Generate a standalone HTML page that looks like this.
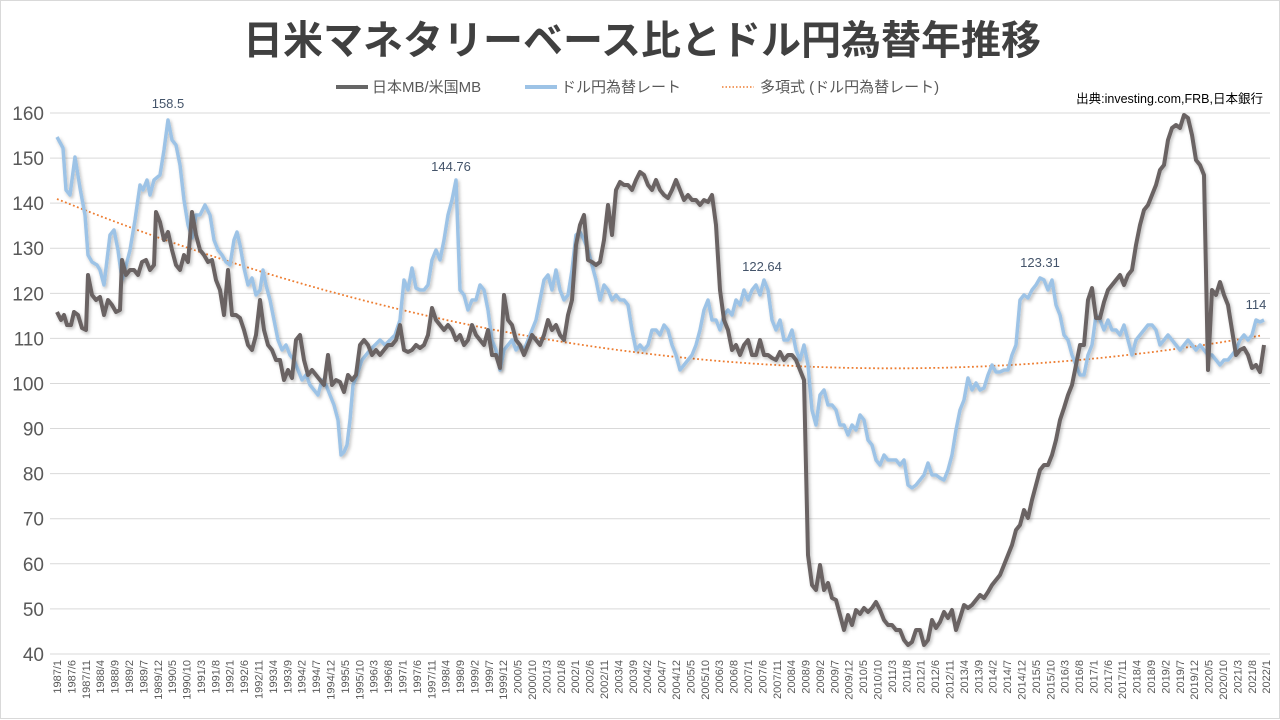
<!DOCTYPE html>
<html><head><meta charset="utf-8"><style>
html,body{margin:0;padding:0;background:#fff;}
svg{display:block;font-family:"Liberation Sans","Noto Sans CJK JP",sans-serif;}
</style></head><body>
<svg id="s" width="1280" height="720" viewBox="0 0 1280 720" xmlns="http://www.w3.org/2000/svg">
<defs><filter id="sh" x="-5%" y="-5%" width="110%" height="110%"><feDropShadow dx="1.5" dy="2" stdDeviation="1.5" flood-color="#000" flood-opacity="0.25"/></filter></defs>
<rect x="0.5" y="0.5" width="1279" height="718" fill="#fff" stroke="#d9d9d9"/>
<text x="642" y="54" text-anchor="middle" font-size="40" font-weight="bold" fill="#404040">日米マネタリーベース比とドル円為替年推移</text>
<g font-size="15" fill="#595959">
<line x1="336" y1="87" x2="368" y2="87" stroke="#666" stroke-width="4"/>
<text x="372" y="92">日本MB/米国MB</text>
<line x1="525" y1="87" x2="557" y2="87" stroke="#9dc3e6" stroke-width="4"/>
<text x="561" y="92">ドル円為替レート</text>
<line x1="722" y1="87" x2="754" y2="87" stroke="#ed7d31" stroke-width="1.5" stroke-dasharray="1.5 2"/>
<text x="760" y="92">多項式 (ドル円為替レート)</text>
</g>
<text x="1263" y="103" text-anchor="end" font-size="12.5" fill="#000">出典:investing.com,FRB,日本銀行</text>
<g id="grid"></g>
<g id="xl" font-size="11" fill="#595959"></g>
<polyline id="tr" fill="none" stroke="#ed7d31" stroke-width="1.8" stroke-dasharray="1.8 2.5"/>
<polyline id="bl" fill="none" stroke="#9dc3e6" stroke-width="3.5" stroke-linejoin="round" filter="url(#sh)"/>
<polyline id="gr" fill="none" stroke="#6b6464" stroke-width="4" stroke-linejoin="round" filter="url(#sh)"/>
<g font-size="13" fill="#44546a" text-anchor="middle">
<text x="168" y="108">158.5</text>
<text x="451" y="171">144.76</text>
<text x="762" y="271">122.64</text>
<text x="1040" y="267">123.31</text>
<text x="1256" y="309">114</text>
</g>
</svg>
<script>
var NS="http://www.w3.org/2000/svg";
function el(p,t,a,txt){var e=document.createElementNS(NS,t);for(var k in a)e.setAttribute(k,a[k]);if(txt!=null)e.textContent=txt;p.appendChild(e);return e;}
var g=document.getElementById('grid');
for(var v=40;v<=160;v+=10){var y=113+(160-v)*4.508;
el(g,'line',{x1:50,x2:1270,y1:y,y2:y,stroke:'#d9d9d9','stroke-width':1});
el(g,'text',{x:44,y:y+7,'text-anchor':'end','font-size':19,fill:'#595959'},v);}
var xl=document.getElementById('xl');
for(var m=0;m<=420;m+=5){var yr=1987+Math.floor(m/12),mo=m%12+1;var x=57+m*2.879+4;
el(xl,'text',{transform:'translate('+x+',660) rotate(-90)','text-anchor':'end'},yr+'/'+mo);}
var blue="57,137 63,148 66,190 70,195 75,157 80,188 85,215 88,255 92,262 97,265 100,270 104,285 110,235 114,230 118,250 122,280 125,270 130,250 135,220 140,185 143,190 147,180 150,195 154,180 160,175 164,150 168,120 172,140 176,145 180,165 184,200 188,225 192,238 196,215 200,215 205,205 210,215 214,240 218,250 222,255 226,262 230,265 234,240 237,232 240,245 244,268 248,285 252,278 256,295 260,290 263,270 266,285 270,300 274,320 278,340 282,350 286,345 290,355 294,360 298,370 302,380 306,375 310,385 314,390 318,395 322,380 326,385 330,395 334,405 338,420 341,455 344,452 347,445 350,420 353,385 357,375 362,360 366,355 370,350 375,345 380,340 385,345 390,340 395,335 400,320 404,280 408,290 412,268 416,288 420,290 424,290 428,285 432,260 436,250 440,260 444,240 448,215 452,200 456,180 460,290 464,295 468,310 472,300 476,300 480,285 484,290 488,310 492,340 496,350 500,370 504,350 508,345 512,340 516,350 520,345 524,350 528,340 532,330 536,320 540,300 544,280 548,275 552,290 556,270 560,290 564,300 568,295 572,270 576,235 580,232 584,240 588,250 592,265 596,280 600,300 604,285 608,290 612,300 616,295 620,300 624,300 628,305 632,330 636,350 640,345 644,350 648,345 652,330 656,330 660,335 664,325 668,330 672,345 676,355 680,370 684,365 688,360 692,355 696,345 700,330 704,310 708,300 712,320 716,320 720,330 724,315 728,310 732,315 736,300 740,305 744,290 748,300 752,290 756,285 760,295 764,280 768,290 772,320 776,330 780,320 784,340 788,340 792,330 796,350 800,360 804,345 808,365 812,410 816,425 820,395 824,390 828,405 832,405 836,410 840,425 844,425 848,435 852,425 856,430 860,415 864,420 868,440 872,445 876,460 880,465 884,455 888,460 892,460 896,460 900,465 904,460 908,485 912,488 916,485 920,480 924,475 928,463 932,475 936,475 940,478 944,480 948,470 952,455 956,430 960,410 964,400 968,378 972,390 976,383 980,390 984,388 988,375 992,365 996,372 1000,372 1004,370 1008,370 1012,355 1016,345 1020,300 1024,295 1028,298 1032,290 1036,285 1040,278 1044,280 1048,290 1052,280 1056,305 1060,315 1064,335 1068,340 1072,355 1076,365 1080,375 1084,375 1088,355 1092,345 1096,315 1100,320 1104,330 1108,320 1112,330 1116,330 1120,335 1124,325 1128,340 1132,355 1136,340 1140,335 1144,330 1148,325 1152,325 1156,330 1160,345 1164,340 1168,335 1172,340 1176,345 1180,350 1184,345 1188,340 1192,345 1196,350 1200,345 1204,350 1208,355 1212,355 1216,360 1220,365 1224,360 1228,360 1232,355 1236,350 1240,340 1244,335 1248,340 1252,335 1256,320 1260,322 1264,320";
var gray="57,312 61,320 64,315 67,325 71,325 74,312 78,315 82,328 86,330 88,275 92,295 96,300 100,297 104,315 108,300 112,305 116,312 120,310 122,260 126,275 130,270 134,270 138,275 142,262 146,260 150,270 154,265 156,212 160,222 164,240 168,232 172,250 176,265 180,270 184,255 188,262 192,212 196,235 200,250 204,255 208,262 212,260 216,280 220,290 224,315 228,270 232,315 236,315 240,318 244,330 248,345 252,350 256,335 260,300 264,330 268,345 272,350 276,360 280,360 284,380 288,370 292,378 296,340 300,335 304,360 308,375 312,370 316,375 320,380 324,385 328,355 332,385 336,380 340,382 344,392 348,375 352,380 356,375 360,345 364,340 368,345 372,355 376,350 380,355 384,350 388,345 392,345 396,340 400,325 404,350 408,352 412,350 416,345 420,348 424,345 428,335 432,308 436,320 440,325 444,330 448,325 452,330 456,340 460,335 464,345 468,340 472,325 476,335 480,340 484,345 488,330 492,355 496,355 500,368 504,295 508,320 512,325 516,340 520,345 524,355 528,345 532,335 536,340 540,345 544,335 548,320 552,330 556,325 560,335 564,340 568,315 572,300 576,245 580,225 584,215 588,260 592,262 596,265 600,262 604,240 608,205 612,235 616,190 620,182 624,185 628,185 632,190 636,180 640,172 644,175 648,185 652,190 656,180 660,190 664,195 668,198 672,190 676,180 680,190 684,200 688,195 692,200 696,200 700,205 704,200 708,202 712,195 716,225 720,290 724,320 728,330 732,350 736,345 740,355 744,345 748,340 752,355 756,355 760,340 764,355 768,355 772,358 776,360 780,352 784,360 788,355 792,355 796,360 800,370 804,380 808,555 812,585 816,590 820,565 824,590 828,583 832,598 836,600 840,615 844,630 848,615 852,625 856,610 860,614 864,608 868,612 872,608 876,602 880,610 884,620 888,625 892,625 896,630 900,630 904,640 908,645 912,642 916,630 920,630 924,645 928,640 932,620 936,628 940,622 944,612 948,618 952,610 956,630 960,618 964,605 968,608 972,605 976,600 980,595 984,598 988,592 992,585 996,580 1000,575 1004,565 1008,555 1012,545 1016,530 1020,525 1024,510 1028,518 1032,500 1036,485 1040,470 1044,465 1048,465 1052,455 1056,440 1060,420 1064,408 1068,395 1072,385 1076,365 1080,345 1084,345 1088,300 1092,288 1096,318 1100,318 1104,302 1108,290 1112,285 1116,280 1120,275 1124,285 1128,275 1132,270 1136,245 1140,225 1144,210 1148,205 1152,195 1156,185 1160,170 1164,165 1168,140 1172,128 1176,125 1180,128 1184,115 1188,118 1192,135 1196,160 1200,165 1204,175 1208,370 1212,290 1216,295 1220,282 1224,295 1228,305 1232,330 1236,355 1240,350 1244,348 1248,355 1252,368 1256,365 1260,372 1264,345";
document.getElementById('bl').setAttribute('points',blue);
document.getElementById('gr').setAttribute('points',gray);
var pts=[];var x0=57,x1=930,x2=1264,y0=199,y1=368,y2=335;
for(var x=57;x<=1264;x+=4){var L0=(x-x1)*(x-x2)/((x0-x1)*(x0-x2)),L1=(x-x0)*(x-x2)/((x1-x0)*(x1-x2)),L2=(x-x0)*(x-x1)/((x2-x0)*(x2-x1));pts.push(x+','+(y0*L0+y1*L1+y2*L2).toFixed(1));}
document.getElementById('tr').setAttribute('points',pts.join(' '));
</script>
</body></html>
